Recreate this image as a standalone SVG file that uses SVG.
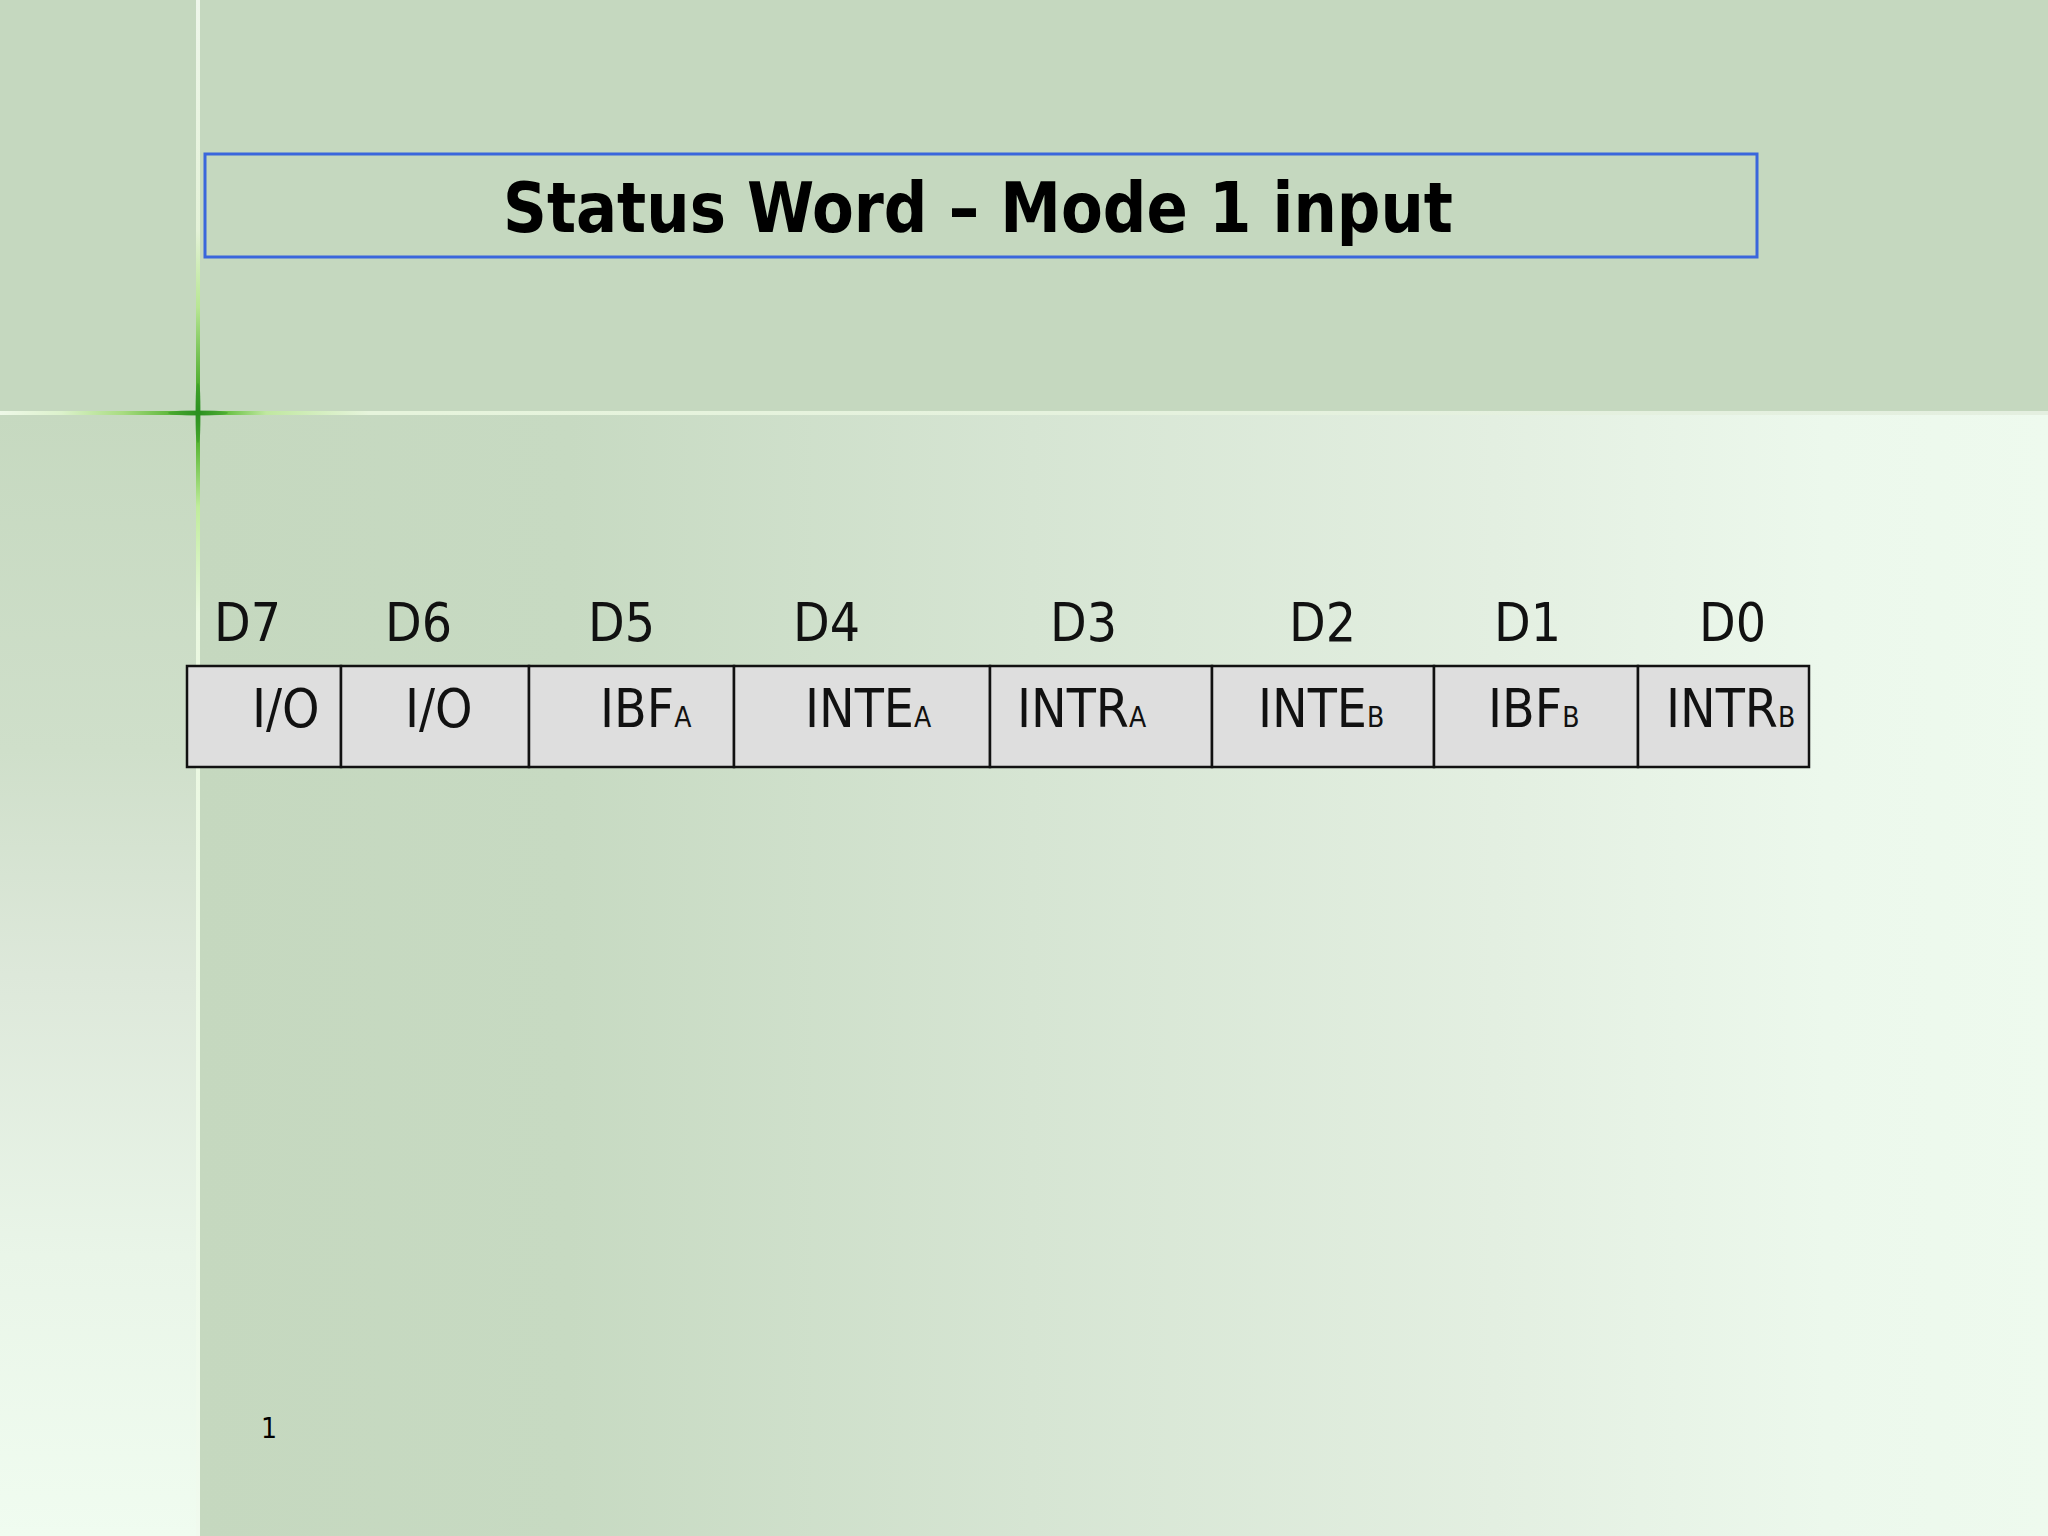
<svg xmlns="http://www.w3.org/2000/svg" width="2048" height="1536" viewBox="0 0 2048 1536">
  <defs>
    <linearGradient id="gMain" x1="198" y1="0" x2="2048" y2="0" gradientUnits="userSpaceOnUse">
      <stop offset="0" stop-color="#c5d8bf"/>
      <stop offset="0.2" stop-color="#c7dac2"/>
      <stop offset="0.45" stop-color="#d6e5d3"/>
      <stop offset="0.7" stop-color="#e3efe1"/>
      <stop offset="0.88" stop-color="#ecf8ec"/>
      <stop offset="1" stop-color="#eefaee"/>
    </linearGradient>
    <linearGradient id="gLeft" x1="0" y1="413" x2="0" y2="1536" gradientUnits="userSpaceOnUse">
      <stop offset="0" stop-color="#c6d9c0"/>
      <stop offset="0.3" stop-color="#cfdfca"/>
      <stop offset="0.5" stop-color="#dde8da"/>
      <stop offset="0.75" stop-color="#e9f5e8"/>
      <stop offset="1" stop-color="#f0fcf0"/>
    </linearGradient>
    <linearGradient id="gHLine" x1="0" y1="0" x2="2048" y2="0" gradientUnits="userSpaceOnUse">
      <stop offset="0" stop-color="#eef8e8"/>
      <stop offset="0.03" stop-color="#dcf2cc"/>
      <stop offset="0.06" stop-color="#a8dc80"/>
      <stop offset="0.085" stop-color="#58b436"/>
      <stop offset="0.097" stop-color="#2a9020"/>
      <stop offset="0.11" stop-color="#66c040"/>
      <stop offset="0.13" stop-color="#c0e8a0"/>
      <stop offset="0.18" stop-color="#e6f4dc"/>
      <stop offset="1" stop-color="#e4efe0"/>
    </linearGradient>
    <linearGradient id="gVLine" x1="0" y1="0" x2="0" y2="1536" gradientUnits="userSpaceOnUse">
      <stop offset="0" stop-color="#eef6ea"/>
      <stop offset="0.15" stop-color="#e4f2d8"/>
      <stop offset="0.2" stop-color="#b8e694"/>
      <stop offset="0.25" stop-color="#50ae30"/>
      <stop offset="0.269" stop-color="#2a9020"/>
      <stop offset="0.29" stop-color="#5cb838"/>
      <stop offset="0.33" stop-color="#c0ec9c"/>
      <stop offset="0.4" stop-color="#eaf8e0"/>
      <stop offset="1" stop-color="#f0faee"/>
    </linearGradient>
    <style>
      .cell { fill: #dedede; stroke: #111; stroke-width: 2.5; }
      .lbl { font-family: "DejaVu Sans Condensed", "DejaVu Sans", sans-serif; font-size: 53px; fill: #111; }
      .sub { font-size: 28px; }
      .title { font-family: "DejaVu Sans Condensed", "DejaVu Sans", sans-serif; font-size: 69px; font-weight: bold; fill: #000; }
    </style>
  </defs>

  <!-- background -->
  <rect x="0" y="0" width="2048" height="1536" fill="#c5d8bf"/>
  <rect x="198" y="413" width="1850" height="1123" fill="url(#gMain)"/>
  <rect x="0" y="413" width="198" height="1123" fill="url(#gLeft)"/>
  <rect x="0" y="411" width="2048" height="4" fill="url(#gHLine)"/>
  <rect x="196" y="0" width="4" height="1536" fill="url(#gVLine)"/>
  <ellipse cx="198" cy="413" rx="30" ry="3" fill="#2a9020" opacity="0.4"/>
  <ellipse cx="198" cy="413" rx="3" ry="30" fill="#2a9020" opacity="0.4"/>

  <!-- title -->
  <g id="title">
    <rect x="205" y="154" width="1552" height="103" fill="none" stroke="#3a66dc" stroke-width="3"/>
    <text class="title" x="978" y="232" text-anchor="middle" textLength="950" lengthAdjust="spacingAndGlyphs">Status Word – Mode 1 input</text>
  </g>

  <!-- bit labels -->
  <g id="bit-labels" class="lbl">
    <text x="214" y="641">D7</text>
    <text x="385" y="641">D6</text>
    <text x="588" y="641">D5</text>
    <text x="793" y="641">D4</text>
    <text x="1050" y="641">D3</text>
    <text x="1289" y="641">D2</text>
    <text x="1494" y="641">D1</text>
    <text x="1699" y="641">D0</text>
  </g>

  <!-- status word cells -->
  <g id="cell-d7">
    <rect class="cell" x="187" y="666" width="154" height="101"/>
    <text class="lbl" x="252" y="727">I/O</text>
  </g>
  <g id="cell-d6">
    <rect class="cell" x="341" y="666" width="188" height="101"/>
    <text class="lbl" x="405" y="727">I/O</text>
  </g>
  <g id="cell-d5">
    <rect class="cell" x="529" y="666" width="205" height="101"/>
    <text class="lbl" x="600" y="727">IBF<tspan class="sub">A</tspan></text>
  </g>
  <g id="cell-d4">
    <rect class="cell" x="734" y="666" width="256" height="101"/>
    <text class="lbl" x="805" y="727">INTE<tspan class="sub">A</tspan></text>
  </g>
  <g id="cell-d3">
    <rect class="cell" x="990" y="666" width="222" height="101"/>
    <text class="lbl" x="1017" y="727">INTR<tspan class="sub">A</tspan></text>
  </g>
  <g id="cell-d2">
    <rect class="cell" x="1212" y="666" width="222" height="101"/>
    <text class="lbl" x="1258" y="727">INTE<tspan class="sub">B</tspan></text>
  </g>
  <g id="cell-d1">
    <rect class="cell" x="1434" y="666" width="204" height="101"/>
    <text class="lbl" x="1488" y="727">IBF<tspan class="sub">B</tspan></text>
  </g>
  <g id="cell-d0">
    <rect class="cell" x="1638" y="666" width="171" height="101"/>
    <text class="lbl" x="1666" y="727">INTR<tspan class="sub">B</tspan></text>
  </g>

  <g id="connectors"/>

  <!-- page number -->
  <text x="261" y="1438" font-family="DejaVu Sans Condensed, DejaVu Sans, sans-serif" font-size="28" fill="#000">1</text>
</svg>
